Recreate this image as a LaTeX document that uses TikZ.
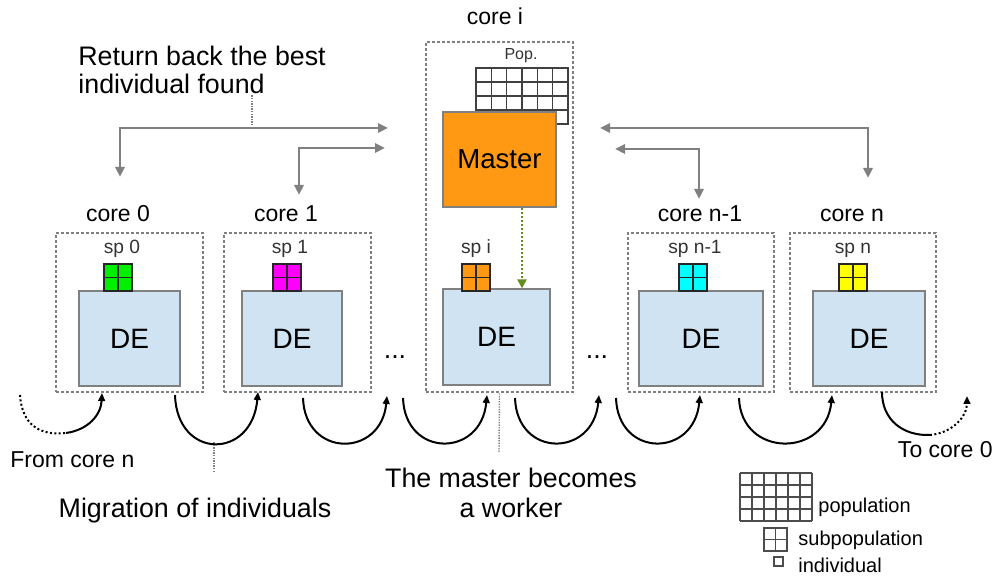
\documentclass[tikz,border=0pt]{standalone}
\usepackage{fontspec}
\setmainfont{Liberation Sans}
\usetikzlibrary{arrows.meta}

\definecolor{boxgray}{RGB}{128,128,128}
\definecolor{debg}{RGB}{207,227,242}
\definecolor{mastorange}{RGB}{255,153,20}
\definecolor{spgreen}{RGB}{0,240,0}
\definecolor{spmagenta}{RGB}{255,0,255}
\definecolor{spcyan}{RGB}{0,255,255}
\definecolor{spyellow}{RGB}{255,255,0}
\definecolor{linkgreen}{RGB}{100,140,30}

\tikzset{
  corebox/.style={draw=boxgray, line width=1.3pt, dash pattern=on 1.3pt off 1.2pt, inner sep=0pt, minimum width=73.5pt},
  debox/.style={draw=boxgray, line width=0.6pt, fill=debg, inner sep=0pt, minimum height=47.5pt, font=\fontsize{14}{16}\selectfont},
  masterbox/.style={draw=boxgray, line width=0.6pt, fill=mastorange, inner sep=0pt, minimum width=56.5pt, minimum height=47.5pt, font=\fontsize{13.8}{16}\selectfont},
  spgrid/.style={draw=black!85, line width=0.6pt, inner sep=0pt, minimum width=14pt, minimum height=13.5pt},
  popline/.style={draw=black!75, line width=0.6pt},
  corelabel/.style={font=\fontsize{11.5}{14}\selectfont, anchor=base, inner sep=0pt},
  splabel/.style={font=\fontsize{9.6}{11}\selectfont, text=black!80, anchor=base, inner sep=0pt},
  biglabel/.style={font=\fontsize{13.4}{14}\selectfont, inner sep=0pt},
  legendlabel/.style={font=\fontsize{10}{12}\selectfont, anchor=base west, inner sep=0pt},
  returnarrow/.style={draw=boxgray, line width=1.3pt, >={Triangle[length=5pt,width=4.5pt]}, <->},
  migration/.style={line width=1pt, >={Triangle[length=4pt,width=3.4pt]}},
  pointer/.style={draw=boxgray, line width=0.7pt, dash pattern=on 0.7pt off 0.6pt},
  linkarrow/.style={draw=linkgreen, line width=1.4pt, dash pattern=on 1.2pt off 0.8pt, >={Triangle[length=4.5pt,width=4.5pt]}, ->},
}

\begin{document}
\begin{tikzpicture}[x=0.5pt,y=-0.5pt]
\useasboundingbox (0,0) rectangle (998,581);

% Drawing the cores
\node[corebox, minimum height=79.5pt] (core0) at (129.5,312.5) {};
\node[corebox, minimum height=79.5pt] (core1) at (297.5,312.5) {};
\node[corebox, minimum height=175pt] (corei) at (499.5,217) {};
\node[corebox, minimum height=79.5pt, minimum width=73pt] (corenm) at (701,312.5) {};
\node[corebox, minimum height=79.5pt, minimum width=73pt] (coren) at (863,312.5) {};

\node[corelabel] (lbl0) at (118,222) {core 0};
\node[corelabel] (lbl1) at (286,222) {core 1};
\node[corelabel] (lbli) at (495,25) {core i};
\node[corelabel] (lblnm) at (700,222) {core n-1};
\node[corelabel] (lbln) at (852,222) {core n};

% Drawing the population of core i
\fill[white] (476,68) rectangle (568,124);
\foreach \c in {1,...,5} \draw[popline] (476+\c*15.333,68) -- (476+\c*15.333,124);
\foreach \r in {1,2,3} \draw[popline] (476,68+\r*14) -- (568,68+\r*14);
\draw[popline] (476,68) rectangle (568,124);
\node[splabel, font=\fontsize{8}{10}\selectfont] (poplbl) at (521,60) {Pop.};

% Drawing the master
\node[masterbox] (master) at (499.5,159.5) {Master};

% Drawing the DE boxes
\node[debox, minimum width=50.5pt] (de0) at (129.5,338.5) {DE};
\node[debox, minimum width=50pt] (de1) at (292,338.5) {DE};
\node[debox, minimum width=53.5pt, minimum height=48pt] (dei) at (496.5,337) {DE};
\node[debox, minimum width=62pt] (denm) at (701,338.5) {DE};
\node[debox, minimum width=56pt] (den) at (869,338.5) {DE};

% Drawing the subpopulations
\node[spgrid, fill=spgreen] (sp0) at (118,277.5) {};
\node[spgrid, fill=spmagenta] (sp1) at (287,277.5) {};
\node[spgrid, fill=mastorange] (spi) at (476,277.5) {};
\node[spgrid, fill=spcyan] (spnm) at (693,277.5) {};
\node[spgrid, fill=spyellow] (spn) at (853,277.5) {};
\draw[spgrid] (sp0.north) -- (sp0.south) (sp0.west) -- (sp0.east);
\draw[spgrid] (sp1.north) -- (sp1.south) (sp1.west) -- (sp1.east);
\draw[spgrid] (spi.north) -- (spi.south) (spi.west) -- (spi.east);
\draw[spgrid] (spnm.north) -- (spnm.south) (spnm.west) -- (spnm.east);
\draw[spgrid] (spn.north) -- (spn.south) (spn.west) -- (spn.east);

\node[splabel] (splbl0) at (122,254) {sp 0};
\node[splabel] (splbl1) at (290,254) {sp 1};
\node[splabel] (splbli) at (476,254) {sp i};
\node[splabel] (splblnm) at (695,254) {sp n-1};
\node[splabel] (splbln) at (853,254) {sp n};

% Master sends its subpopulation to the worker
\draw[linkarrow] ([xshift=11.25pt]master.south) -- ([xshift=11.25pt]master.south |- dei.north);

% Returning the best individual
\coordinate (ret0) at (120,177);
\coordinate (ret0m) at (388,128);
\coordinate (ret1) at (299,195);
\coordinate (ret1m) at (385,148);
\coordinate (retnm) at (699,199);
\coordinate (retnmm) at (615,149);
\coordinate (retn) at (868,178);
\coordinate (retnmaster) at (600,128);
\draw[returnarrow] (ret0) |- (ret0m);
\draw[returnarrow] (ret1) |- (ret1m);
\draw[returnarrow] (retnm) |- (retnmm);
\draw[returnarrow] (retn) |- (retnmaster);

\node[biglabel, align=left, anchor=north west] (retlbl) at (78,45.5) {Return back the best\\individual found};
\coordinate (retptr) at (252,128);
\draw[pointer] (retptr) -- (252,95);

% Drawing the migration ring
\coordinate (a0s) at (20,395);
\coordinate (a0m) at (66,433);
\coordinate (a0e) at (102,393);
\coordinate (a1s) at (175,395);
\coordinate (a1e) at (258,392);
\coordinate (a2s) at (303,398);
\coordinate (a2e) at (387,396);
\coordinate (a3s) at (403,398);
\coordinate (a3e) at (487,395);
\coordinate (a4s) at (515,398);
\coordinate (a4e) at (599,395);
\coordinate (a5s) at (616,398);
\coordinate (a5e) at (700,395);
\coordinate (a6s) at (739,398);
\coordinate (a6e) at (832,395);
\coordinate (a7s) at (882,392);
\coordinate (a7m) at (930,435);
\coordinate (a7e) at (967,396);

\draw[migration, dash pattern=on 1pt off 1.2pt] (a0s) .. controls (22,425) and (40,436) .. (a0m);
\draw[migration, ->] (a0m) .. controls (88,430) and (101,415) .. (a0e);
\draw[migration, ->] (a1s) .. controls (177,460) and (252,460) .. (a1e);
\draw[migration, ->] (a2s) .. controls (305,458) and (381,458) .. (a2e);
\draw[migration, ->] (a3s) .. controls (405,458) and (481,458) .. (a3e);
\draw[migration, ->] (a4s) .. controls (517,458) and (593,458) .. (a4e);
\draw[migration, ->] (a5s) .. controls (618,458) and (694,458) .. (a5e);
\draw[migration, ->] (a6s) .. controls (741,458) and (826,458) .. (a6e);
\draw[migration] (a7s) .. controls (882,420) and (903,436) .. (a7m);
\draw[migration, ->, dash pattern=on 1pt off 1.2pt] (a7m) .. controls (953,433) and (967,416) .. (a7e);

\node[biglabel, anchor=base] (dots1) at (395,359) {...};
\node[biglabel, anchor=base] (dots2) at (597,359) {...};

\node[corelabel, anchor=base west] (fromlbl) at (10,468) {From core n};
\node[corelabel, anchor=base east] (tolbl) at (993,458) {To core 0};

\node[biglabel, anchor=base] (miglbl) at (195,518) {Migration of individuals};
\coordinate (migptr) at (214,442);
\draw[pointer] (migptr) -- (214,472);

\node[biglabel, font=\fontsize{13.4}{15}\selectfont, align=center, anchor=north] (worklbl) at (511,467.5) {The master becomes\\a worker};
\draw[pointer] (corei.south) -- (499,453);

% Drawing the legend
\foreach \c in {0,...,6} \draw[popline, draw=black!70, line width=0.7pt] (740+\c*12,473) -- (740+\c*12,521);
\foreach \r in {0,...,4} \draw[popline, draw=black!70, line width=0.7pt] (740,473+\r*12) -- (812,473+\r*12);
\draw[popline, draw=black!70, line width=0.7pt] (764,528) rectangle (787,551) (775.5,528) -- (775.5,551) (764,539.5) -- (787,539.5);
\draw[popline, draw=black!70, line width=0.7pt] (774,557) rectangle (783,566);
\node[legendlabel] (legpop) at (818,513) {population};
\node[legendlabel] (legsub) at (798,546) {subpopulation};
\node[legendlabel] (legind) at (798,573) {individual};
\end{tikzpicture}
\end{document}
